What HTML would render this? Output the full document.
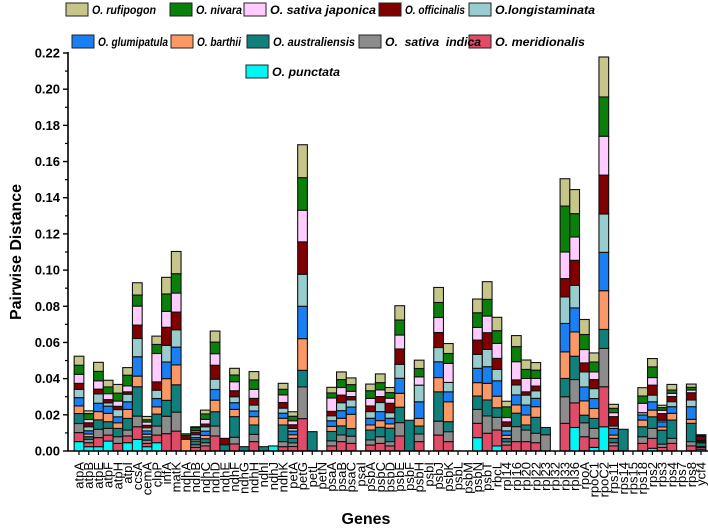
<!DOCTYPE html>
<html><head><meta charset="utf-8"><style>
body{margin:0;background:#fff;}
svg{display:block;font-family:"Liberation Sans",Arial,sans-serif;}
</style></head><body>
<svg id="chart" width="708" height="529" viewBox="0 0 708 529" xmlns="http://www.w3.org/2000/svg">
<g id="legend"></g>
<g id="bars"></g>
<g id="axes"></g>
<text transform="translate(21,252) rotate(-90)" text-anchor="middle" font-size="16" font-weight="bold">Pairwise Distance</text>
<text x="366" y="524" text-anchor="middle" font-size="16" font-weight="bold">Genes</text>
</svg>
<script>
const genes = ["atpA","atpB","atpE","atpF","atpH","atpI","ccsA","cemA","clpP","infA","matK","ndhA","ndhB","ndhC","ndhD","ndhE","ndhF","ndhG","ndhH","ndhI","ndhJ","ndhK","petA","petG","petL","petN","psaA","psaB","psaC","psaI","psbA","psbC","psbD","psbE","psbF","psbH","psbI","psbJ","psbK","psbL","psbM","psbN","psbT","rbcL","rpl14","rpl16","rpl20","rpl22","rpl23","rpl32","rpl33","rpl36","rpoA","rpoC1","rpoC2","rps11","rps14","rps15","rps18","rps2","rps3","rps4","rps7","rps8","ycf4"];
// values in units of 0.001
const punctata = [5.2,2.4,2.4,5.5,0,4.6,6.4,2.4,4.6,0, 0,0,0,0,0,0,0,0,0,0, 2.8,0,0,0,0,0,0,0,0,0, 0,0,0,0,0,0,0,0,0,0, 0,7.4,0,2.8,0,0,0,0,0,0, 0,13,0,2,13.4,0,0,0,0,1.5, 0,0,0,0,1];
const meridionalis = [5.0,2.2,5,3.3,4.2,3.7,7,1.8,4.2,9.6, 11,0,2,2.8,8.3,0,3.9,0,5.2,0, 0,2.4,2.5,17.9,0,0,2.8,5.2,4.2,0, 3.3,4.2,2.8,8.3,0,5.2,0,8.8,5.2,0, 0,7.9,9.8,8.8,3.3,5.2,5.2,4.6,0,0, 15.3,13.6,7.9,5,22.1,2.8,0,0,4.2,5.5, 2,4.2,0,2.8,1];
const indica = [5.0,1.8,4.6,3.7,3.7,3.3,5.9,1.8,5,9.6, 10.5,0,1.5,1.8,5.5,0,3.7,0,4,0, 0,2.8,2,17.5,0,0,2.8,3.7,4,0, 2.8,3.7,2.4,7.4,0,4.2,0,7.7,5.5,0, 0,7.7,9.6,7,1.8,8.3,6.4,5.2,9,0, 14.7,12.9,7.7,5.5,21.2,1.8,0,0,3.7,5.5, 1.8,2.8,0,2.4,0.5];
const australiensis = [5.5,1.5,5.2,3.7,4.6,6.4,16.2,1.8,6.6,8.8, 15.1,0,2,2.2,7.9,3.5,11.4,2.4,5.2,2.4, 0,9.2,2.5,9.2,10.7,0,5.2,5,4.2,0, 5.5,5.2,7.4,8.5,17,4.4,0,16.2,5.5,0, 0,7.4,8.8,5.3,1.8,7.4,2.8,8.8,4,0, 10.1,12.9,4.2,5.5,10.5,2.4,12,0,5.5,6.4, 7.7,10.1,0,10.1,2];
const barthii = [4.2,1.5,4.6,4.6,3.1,5,5.9,1.5,4,12, 11,6.5,1,1.8,6.4,0,4,0,4.6,0, 0,3.7,2,17.5,0,0,2.8,4.2,7.9,0, 2.8,3.7,2.4,7.7,0,4.2,0,7.9,11,0, 0,7.4,9.2,6.4,1.8,4.6,5.5,5.9,0,0, 14.7,13.4,7.9,5.5,21.4,1.8,0,0,3.7,3.7, 1.8,3.7,0,2.2,0.5];
const glumipatula = [4.6,1.8,4.6,4,3.3,4.2,10.7,1.8,4.6,9.2, 9.8,0,1,2.4,5.9,0,3.7,0,3.1,0, 0,2.8,2,17.9,0,0,3.1,4.2,4,0, 3.7,5,3.1,8.3,0,9.2,0,8.7,5.5,0, 0,7.9,9.2,8.5,2.4,5.5,5.5,4.6,0,0, 15.7,13.3,7.7,5.5,21.2,3.7,0,0,2.8,4.6, 2.8,3.7,0,7,0.5];
const longistaminata = [4.6,2.2,5.2,1.8,4,4.2,10.1,1.8,4.6,9.2, 9.6,0,1.5,2.4,5.7,0,3.3,0,3.3,0, 0,2.8,1.5,17.7,0,0,2.8,4.4,4,0, 3.7,5,3.1,7.7,0,9.2,0,7.9,5.2,0, 0,7.7,9.6,6.3,2.6,5.5,5.5,4.2,0,0, 14.7,12.5,8.3,5.5,21.2,1.3,0,0,1.3,3.7, 0.9,2.8,0,3.7,0.5];
const officinalis = [3.3,2.2,2.6,1.8,1.8,1.3,7.4,1.3,4.6,10, 9.8,2,1.5,1.5,7.7,3.5,3.3,0,3.7,0, 0,3.1,2,17.9,0,0,2.4,4.2,1.8,0, 3.1,3.3,5.2,8.5,0,0,0,8.3,0,0, 0,7.9,9.2,6.1,2.4,2.8,1.8,2.6,0,0, 10.1,13.8,5,5,21.5,5.2,0,0,0,5.5, 3.7,2.8,0,4,2];
const japonica = [5.0,1.8,4.6,3.3,2.9,3.3,10.5,1.8,15.7,8.8, 10.5,0,0.9,2.6,6.4,0,5,0,5,0, 0,4.2,2.2,17.5,0,0,7.4,4.2,2.9,0, 4.2,3.7,2.8,7.7,0,4.6,0,8.3,10.5,0, 0,7,9.2,8.3,2.4,10.1,7.4,4.2,0,0, 14.7,12.9,7.4,4.2,21.5,2.2,0,0,5.2,4.2, 1.8,1.8,0,1.5,0.5];
const nivara = [5.0,3.3,5.2,3.7,4.4,5.9,6.1,1.3,5,9.6, 10.7,1,1.5,3.0,6.4,0,3.7,0,5.2,0, 0,3.1,2.5,18,0,0,2.8,4.4,3.7,0, 4.2,4,3.1,8.3,0,4.6,0,8.3,5.5,0, 0,8.1,9.2,7,5.9,8.3,5,4.6,0,0, 25.4,12.9,8.3,5.5,21.7,2.4,0,0,4,5.9, 1.5,1.8,0,1.5,0.5];
const rufipogon = [5.0,1.5,5,3.7,4.8,4.2,6.8,1.8,4.6,9.2, 12.3,0,0.5,2.1,6.1,0,3.7,0,4.6,0, 0,3.3,2.5,18.2,0,0,3.1,4.2,3.7,0, 3.7,4.8,2.8,7.9,0,4.6,0,8.3,5.5,0, 0,7.6,9.8,7.4,3.1,6.1,5.2,4.2,0,0, 15.1,13.3,8.3,5,22.1,2.2,0,0,4.6,4.6, 1.3,3.1,0,1.8,0];
const yTicks = [0,0.02,0.04,0.06,0.08,0.10,0.12,0.14,0.16,0.18,0.20,0.22];
const yTickLabels = ["0.00","0.02","0.04","0.06","0.08","0.10","0.12","0.14","0.16","0.18","0.20","0.22"];

const seriesList = [
 {name:"O. punctata",key:"punctata",vals:punctata,color:"#00f5f5"},
 {name:"O. meridionalis",key:"meridionalis",vals:meridionalis,color:"#e04c68"},
 {name:"O.  sativa  indica",key:"indica",vals:indica,color:"#8c8c8c"},
 {name:"O. australiensis",key:"australiensis",vals:australiensis,color:"#11807c"},
 {name:"O. barthii",key:"barthii",vals:barthii,color:"#fc9865"},
 {name:"O. glumipatula",key:"glumipatula",vals:glumipatula,color:"#1a7ff2"},
 {name:"O.longistaminata",key:"longistaminata",vals:longistaminata,color:"#99cccc"},
 {name:"O. officinalis",key:"officinalis",vals:officinalis,color:"#800000"},
 {name:"O. sativa japonica",key:"japonica",vals:japonica,color:"#ffccff"},
 {name:"O. nivara",key:"nivara",vals:nivara,color:"#0a7f0a"},
 {name:"O. rufipogon",key:"rufipogon",vals:rufipogon,color:"#c6c68a"}
];
const NS="http://www.w3.org/2000/svg";
const X0=68, Y0=451, YTOP=53, YMAX=0.22, XEND=708;
function yPx(v){return Y0-(v/YMAX)*(Y0-YTOP);}
function xCenter(i){return 79+i*((701-79)/(genes.length-1));}
const BW=(701-79)/(genes.length-1);
function mk(tag,attrs,parent){const e=document.createElementNS(NS,tag);for(const k in attrs)e.setAttribute(k,attrs[k]);parent.appendChild(e);return e;}

const barsG=document.getElementById('bars');
genes.forEach((g,i)=>{
  let cum=0;
  const grp=mk('g',{},barsG);
  
  
  seriesList.forEach(s=>{
    const v=s.vals[i]/1000;
    if(v<=0)return;
    const y1=yPx(cum), y2=yPx(cum+v);
    const r=mk('rect',{x:(xCenter(i)-BW/2).toFixed(2),y:y2.toFixed(2),width:BW.toFixed(2),height:(y1-y2).toFixed(2),fill:s.color,stroke:"#111","stroke-width":"1.1"},grp);
    
    
    cum+=v;
  });
});

const ax=document.getElementById('axes');
const yl=mk('line',{x1:X0,y1:YTOP-1,x2:X0,y2:Y0,stroke:"#000","stroke-width":"1.6"},ax);


const xl=mk('line',{x1:X0,y1:Y0,x2:XEND,y2:Y0,stroke:"#000","stroke-width":"1.6"},ax);


yTicks.forEach((t,k)=>{
  const y=yPx(t);
  mk('line',{x1:X0-5,y1:y,x2:X0,y2:y,stroke:"#000","stroke-width":"1.4"},ax);
  if(k<yTicks.length-1){const ym=yPx(t+0.01);mk('line',{x1:X0-3,y1:ym,x2:X0,y2:ym,stroke:"#000","stroke-width":"1.2"},ax);}
  const tx=mk('text',{x:X0-8,y:y+4.5,"text-anchor":"end","font-size":"13","font-weight":"bold"},ax);
  tx.textContent=yTickLabels[k];
  
  
});
genes.forEach((g,i)=>{
  const x=xCenter(i);
  mk('line',{x1:x,y1:Y0,x2:x,y2:Y0+4,stroke:"#000","stroke-width":"1.2"},ax);
  const tx=mk('text',{transform:`translate(${(x+4.5).toFixed(2)},${Y0+11}) rotate(-90)`,"text-anchor":"end","font-size":"13"},ax);
  tx.textContent=g;
  
  
});

const legendPos = {
 rufipogon:[66,3],nivara:[170,3],japonica:[244,3],officinalis:[379,3],longistaminata:[469,3],
 glumipatula:[72,35],barthii:[171,35],australiensis:[247,35],indica:[359,35],meridionalis:[469,35],
 punctata:[246,65]
};
const legendTextW = {rufipogon:64,nivara:46,japonica:106,officinalis:60,longistaminata:100,
 glumipatula:70,barthii:44,australiensis:82,indica:96,meridionalis:90,punctata:68};
const lg=document.getElementById('legend');
seriesList.forEach(s=>{
  const p=legendPos[s.key];
  const g=mk('g',{},lg);
  
  
  mk('rect',{x:p[0],y:p[1],width:22,height:13,fill:s.color,stroke:"#222","stroke-width":"1"},g);
  const t=mk('text',{x:p[0]+26,y:p[1]+11,"font-size":"12","font-weight":"bold","font-style":"italic",textLength:legendTextW[s.key],lengthAdjust:"spacingAndGlyphs"},g);
  t.setAttribute('style','white-space:pre');
  t.textContent=s.name;
});
</script>
</body></html>
